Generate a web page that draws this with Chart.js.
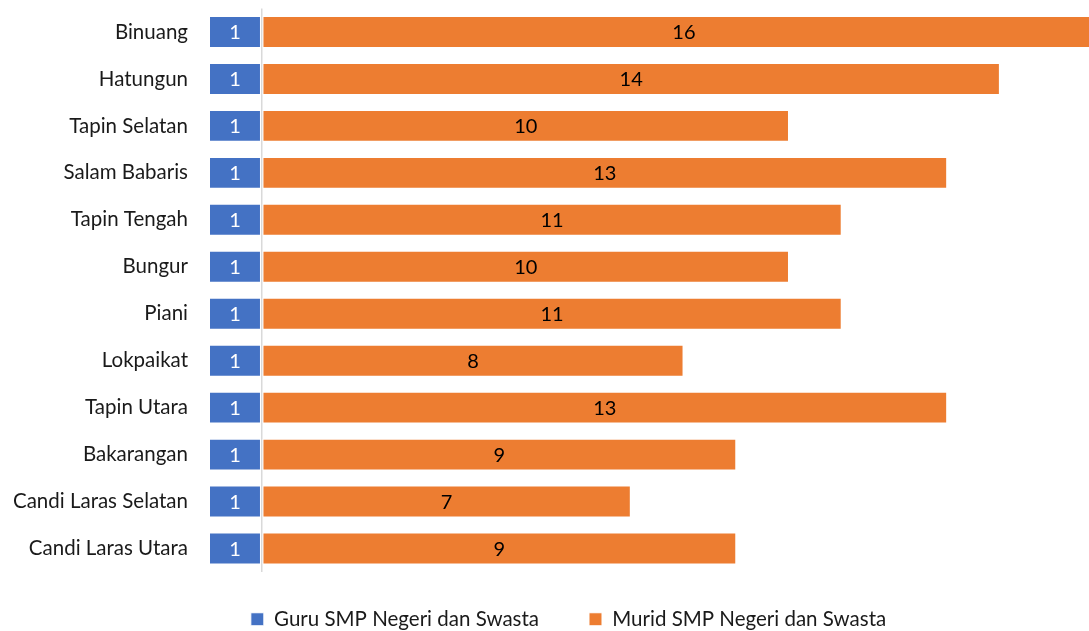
<!DOCTYPE html>
<html>
<head>
<meta charset="utf-8">
<script src="https://cdn.jsdelivr.net/npm/chart.js@4"></script>
<style>
  html, body { margin: 0; padding: 0; background: #fff; }
  #wrap { width: 1089px; height: 631px; }
</style>
</head>
<body>
<div id="wrap"><canvas id="chart"></canvas></div>
<script>
const categories = ['Binuang', 'Hatungun', 'Tapin Selatan', 'Salam Babaris', 'Tapin Tengah', 'Bungur', 'Piani', 'Lokpaikat', 'Tapin Utara', 'Bakarangan', 'Candi Laras Selatan', 'Candi Laras Utara'];
const guru = [1, 1, 1, 1, 1, 1, 1, 1, 1, 1, 1, 1];
const murid = [16, 14, 10, 13, 11, 10, 11, 8, 13, 9, 7, 9];

const FONT = 'Lato, "Open Sans", sans-serif';
const TEXT = '#1a1a1a';

// draws the value in the middle of each bar
const barLabels = {
  id: 'barLabels',
  afterDatasetsDraw(chart) {
    const ctx = chart.ctx;
    ctx.save();
    ctx.font = '20px ' + FONT;
    ctx.textAlign = 'center';
    ctx.textBaseline = 'middle';
    chart.data.datasets.forEach((ds, i) => {
      chart.getDatasetMeta(i).data.forEach((bar, j) => {
        ctx.fillStyle = i === 0 ? '#ffffff' : '#000000';
        ctx.fillText(String(Math.abs(ds.data[j])), (bar.x + bar.base) / 2, bar.y + 1);
      });
    });
    ctx.restore();
  },
};

// legend uses a wide gap between items, but keep its box short and nudge it
const legendSpacing = {
  id: 'legendSpacing',
  afterInit(chart) {
    const lg = chart.legend;
    const fit = lg.fit.bind(lg);
    lg.fit = function () { fit(); this.height = 59; };
  },
  afterLayout(chart) {
    const lg = chart.legend;
    lg.top -= 13;
    lg.left += 24;
    lg.right += 24;
  },
};

new Chart(document.getElementById('chart'), {
  type: 'bar',
  data: {
    labels: categories,
    datasets: [
      {
        label: 'Guru SMP Negeri dan Swasta',
        data: guru.map((v) => -v),
        backgroundColor: '#4472C4',
        borderColor: '#ffffff',
        borderWidth: 1,
        borderSkipped: false,
      },
      {
        label: 'Murid SMP Negeri dan Swasta',
        data: murid,
        backgroundColor: '#ED7D31',
        borderColor: '#ffffff',
        borderWidth: 1,
        borderSkipped: false,
      },
    ],
  },
  options: {
    indexAxis: 'y',
    responsive: true,
    maintainAspectRatio: false,
    animation: false,
    categoryPercentage: 1,
    barPercentage: 0.68,
    layout: { padding: { top: 8.5, right: 0, left: 0, bottom: 0 } },
    plugins: {
      legend: {
        position: 'bottom',
        labels: {
          font: { family: FONT, size: 20.5 },
          color: TEXT,
          boxWidth: 13,
          boxHeight: 13,
          padding: 50,
        },
      },
      tooltip: { enabled: false },
    },
    scales: {
      x: {
        stacked: true,
        min: -1,
        max: 15.69,
        afterFit: (s) => { s.height = 0; },
        ticks: { display: false, stepSize: 1 },
        border: { display: false },
        grid: {
          drawTicks: false,
          color: (c) => (c.tick && c.tick.value === 0 ? '#d9d9d9' : 'rgba(0,0,0,0)'),
          lineWidth: 1.5,
        },
      },
      y: {
        stacked: true,
        afterFit: (s) => { s.width = 209; s.paddingTop = 0; s.paddingBottom = 0; },
        ticks: { font: { family: FONT, size: 20.5 }, color: TEXT, padding: 21 },
        border: { display: false },
        grid: { display: false, drawTicks: false },
      },
    },
  },
  plugins: [barLabels, legendSpacing],
});
</script>
</body>
</html>
